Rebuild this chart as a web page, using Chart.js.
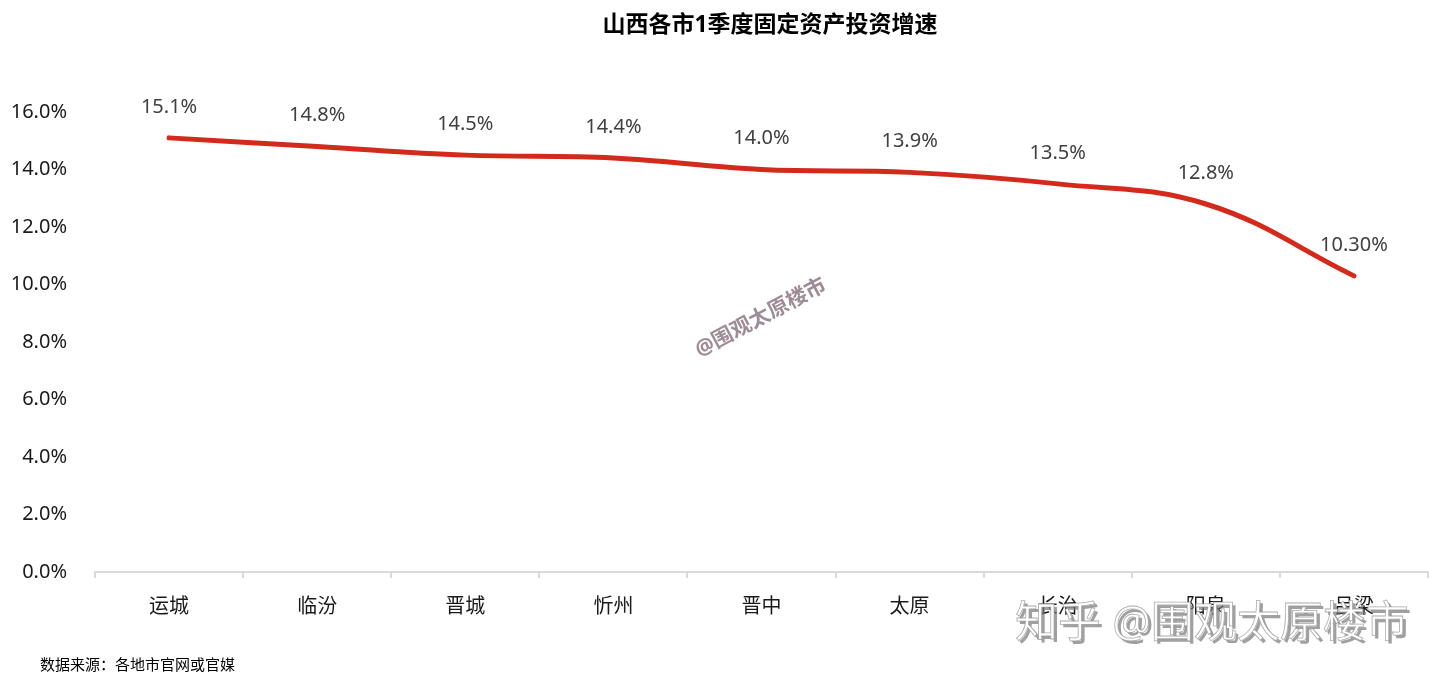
<!DOCTYPE html>
<html>
<head>
<meta charset="utf-8">
<script src="https://cdn.jsdelivr.net/npm/chart.js@4"></script>
<style>
  html, body { margin: 0; padding: 0; background: #fff; }
  #wrap { width: 1450px; height: 684px; position: relative; }
</style>
</head>
<body>
<div id="wrap"><canvas id="investLine"></canvas></div>
<script>
// data
var cityNames = ["运城", "临汾", "晋城", "忻州", "晋中", "太原", "长治", "阳泉", "吕梁"];
var growthRate = [15.1, 14.8, 14.5, 14.4, 14.0, 13.9, 13.5, 12.8, 10.3];
var rateLabels = ["15.1%", "14.8%", "14.5%", "14.4%", "14.0%", "13.9%", "13.5%", "12.8%", "10.30%"];
var yTicks = [0, 2, 4, 6, 8, 10, 12, 14, 16];

var chartTitle = "山西各市1季度固定资产投资增速";
var sourceNote = "数据来源：各地市官网或官媒";
var markText = "@围观太原楼市";
var zhihuText = "知乎 @围观太原楼市";

var baseFont = '"Noto Sans", "Noto Sans CJK SC", sans-serif';

// labels above points + title + watermarks
var extrasPlugin = {
    id: "extras",
    afterDatasetsDraw: function (chart) {
        var ctx = chart.ctx;
        var meta = chart.getDatasetMeta(0);
        ctx.save();
        ctx.font = "20px " + baseFont;
        ctx.fillStyle = "#404040";
        ctx.textAlign = "center";
        ctx.textBaseline = "middle";
        meta.data.forEach(function (pt, i) {
            ctx.fillText(rateLabels[i], pt.x, pt.y - 31);
        });
        ctx.restore();
    },
    afterDraw: function (chart) {
        var ctx = chart.ctx;
        ctx.save();
        // title
        ctx.font = "bold 23px " + baseFont;
        ctx.fillStyle = "#000";
        ctx.textAlign = "center";
        ctx.textBaseline = "middle";
        ctx.fillText(chartTitle, 770, 25);

        // source
        ctx.font = "15px " + baseFont;
        ctx.textAlign = "left";
        ctx.fillStyle = "#000";
        ctx.fillText(sourceNote, 40, 666);

        // rotated watermark
        ctx.save();
        ctx.translate(761, 318);
        ctx.rotate(-28 * Math.PI / 180);
        ctx.font = "bold 21px " + baseFont;
        ctx.fillStyle = "rgba(140,120,130,0.85)";
        ctx.textAlign = "center";
        ctx.fillText(markText, 0, 0);
        ctx.restore();

        // zhihu watermark
        ctx.font = "43px " + baseFont;
        ctx.textAlign = "left";
        ctx.fillStyle = "rgba(120,120,120,0.7)";
        ctx.fillText(zhihuText, 1018, 628);
        ctx.fillStyle = "#fff";
        ctx.fillText(zhihuText, 1015, 625);
        ctx.lineWidth = 0.8;
        ctx.strokeStyle = "rgba(150,150,150,0.8)";
        ctx.strokeText(zhihuText, 1015, 625);
        ctx.restore();
    }
};

var investCtx = document.getElementById("investLine");

var investChart = new Chart(investCtx, {
    type: "line",
    data: {
        labels: cityNames,
        datasets: [{
            label: "增速",
            data: growthRate,
            borderColor: "#d42a1c",
            borderWidth: 5,
            borderCapStyle: "round",
            tension: 0.4,
            pointRadius: 0,
            fill: false
        }]
    },
    options: {
        responsive: true,
        maintainAspectRatio: false,
        animation: false,
        layout: { padding: { top: 112, right: 22, bottom: 52, left: 0 } },
        plugins: {
            legend: { display: false },
            tooltip: { enabled: false }
        },
        scales: {
            x: {
                offset: true,
                grid: {
                    offset: true,
                    drawOnChartArea: false,
                    drawTicks: true,
                    tickLength: 6,
                    color: "#d9d9d9",
                    lineWidth: 2
                },
                border: { color: "#d9d9d9", width: 2 },
                ticks: {
                    color: "#1a1a1a",
                    padding: 17,
                    font: { size: 20, family: baseFont }
                },
                afterFit: function (s) { s.height = 60; }
            },
            y: {
                min: 0,
                max: 16,
                grid: { display: false },
                border: { display: false },
                afterBuildTicks: function (s) {
                    s.ticks = yTicks.map(function (v) { return { value: v }; });
                },
                ticks: {
                    color: "#1a1a1a",
                    padding: 20,
                    font: { size: 20, family: baseFont },
                    callback: function (v) { return v.toFixed(1) + "%"; }
                },
                afterFit: function (s) { s.width = 95; }
            }
        }
    },
    plugins: [extrasPlugin]
});
</script>
</body>
</html>
